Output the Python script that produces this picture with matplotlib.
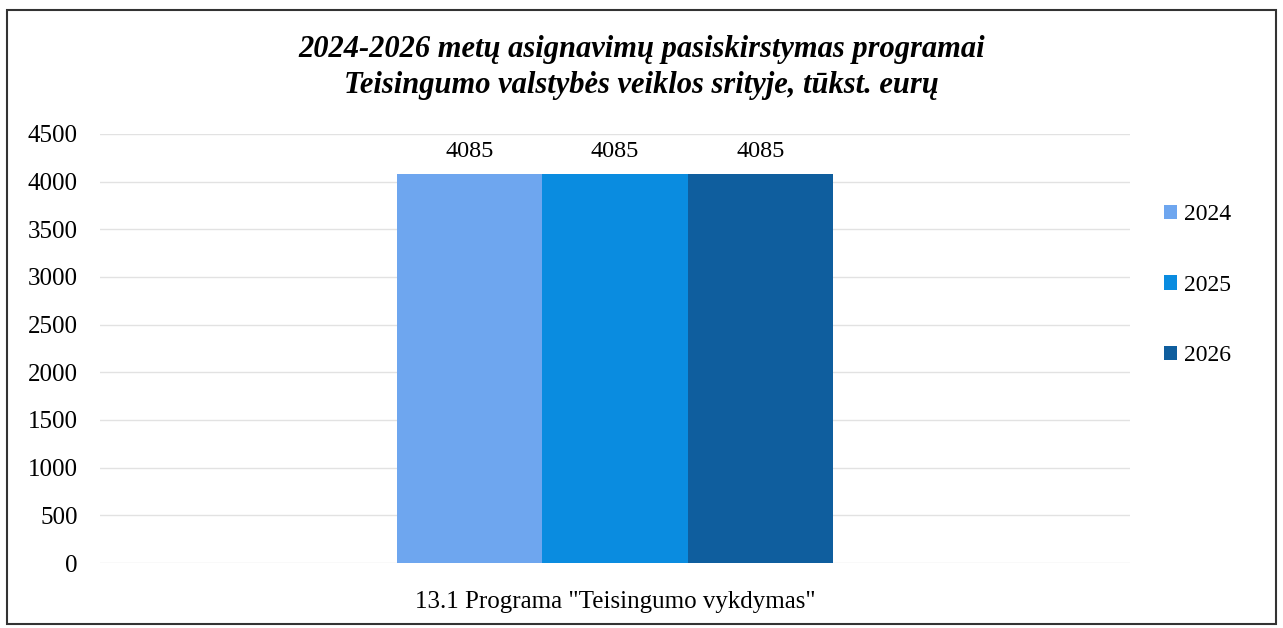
import matplotlib.pyplot as plt
from matplotlib.patches import Rectangle

# data
category = '13.1 Programa "Teisingumo vykdymas"'
years = ['2024', '2025', '2026']
values = [4085, 4085, 4085]
colors = ['#6ea6ef', '#0a8ce0', '#0f5e9e']

plt.rcParams['font.family'] = ['Liberation Serif', 'DejaVu Serif']

fig = plt.figure(figsize=(12.83, 6.28), dpi=100)
ax = fig.add_axes([100 / 1283, 1 - 563 / 628, 1030 / 1283, (563 - 134) / 628])

width = 0.141
for i, (yr, v, c) in enumerate(zip(years, values, colors)):
    x = (i - 1) * width
    ax.bar(x, v, width=width, color=c, label=yr, zorder=2)
    ax.text(x, v + 120, str(v), ha='center', va='bottom', fontsize=17.5)

ax.set_xlim(-0.5, 0.5)
ax.set_ylim(0, 4500)
ax.set_yticks(range(0, 4501, 500))
ax.set_xticks([0])
ax.tick_params(axis='both', length=0, labelsize=18)
ax.tick_params(axis='y', pad=16)
ax.tick_params(axis='x', pad=20)
ax.set_xticklabels([category], fontsize=18)
ax.yaxis.grid(True, color='#e2e2e2', linewidth=1, zorder=0)
for s in ax.spines.values():
    s.set_visible(False)

fig.text(0.5, 1 - 49 / 628, '2024-2026 metų asignavimų pasiskirstymas programai',
         ha='center', va='center', fontsize=22, fontweight='bold', style='italic')
fig.text(0.5, 1 - 86 / 628, 'Teisingumo valstybės veiklos srityje, tūkst. eurų',
         ha='center', va='center', fontsize=22, fontweight='bold', style='italic')

leg = fig.legend(loc='upper left', bbox_to_anchor=(1143 / 1283, 1 - 183 / 628),
                 frameon=False, fontsize=17, handlelength=0.55, handleheight=0.55,
                 handletextpad=0.3, labelspacing=2.1)

fig.patches.append(Rectangle((7 / 1283, 4 / 628), 1269 / 1283, 614 / 628,
                             transform=fig.transFigure, fill=False,
                             edgecolor='#333333', linewidth=1.5))

plt.savefig('out.png', dpi=100)
